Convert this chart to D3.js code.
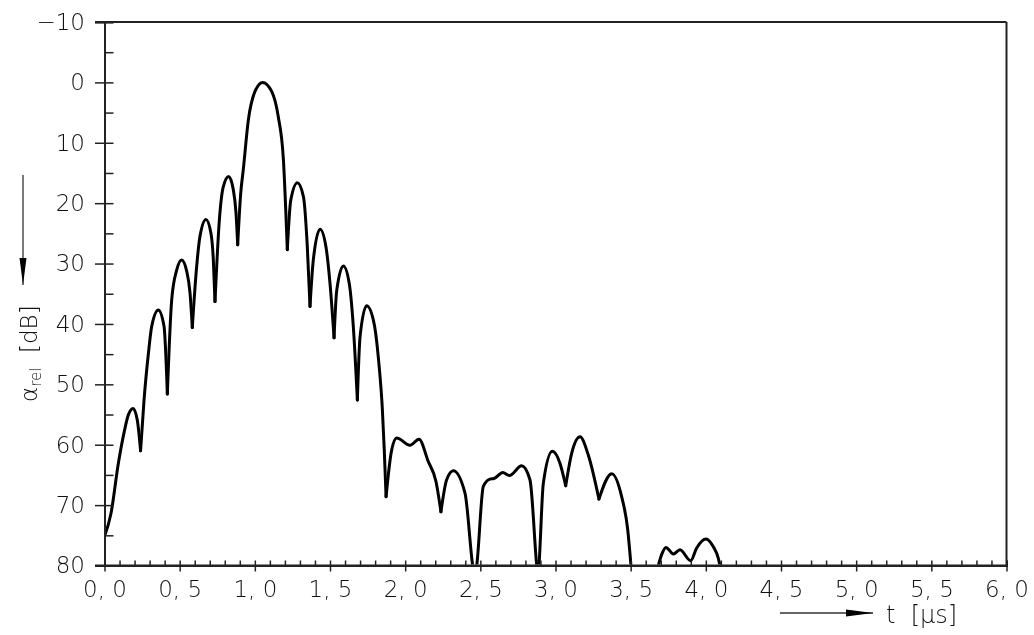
<!DOCTYPE html>
<html>
<head>
<meta charset="utf-8">
<script src="https://cdn.jsdelivr.net/npm/d3@7"></script>
<style>
  body { margin: 0; background: #fff; }
  svg { filter: grayscale(100%); }
  svg text { font-family: "DejaVu Sans", sans-serif; font-weight: 200; fill: #111; }
</style>
</head>
<body>
<div id="chart"></div>
<script>
// pulse response: time in µs, level in dB (null = below 80 dB)
var times = [
  0.000, 0.043, 0.092, 0.130, 0.158, 0.190, 0.218, 0.240,
  0.263, 0.292, 0.314, 0.358, 0.396, 0.418,
  0.447, 0.480, 0.513, 0.547, 0.569, 0.584,
  0.613, 0.635, 0.675, 0.708, 0.724, 0.735,
  0.764, 0.790, 0.826, 0.857, 0.875, 0.886,
  0.906, 0.923, 0.957, 1.001, 1.052, 1.112, 1.156, 1.190, 1.216,
  1.239, 1.283, 1.323, 1.349, 1.367,
  1.389, 1.434, 1.473, 1.500, 1.527,
  1.545, 1.589, 1.628, 1.655, 1.682,
  1.700, 1.744, 1.793, 1.825, 1.848, 1.861, 1.873,
  1.910, 1.944, 2.032, 2.092, 2.154, 2.205, 2.238,
  2.276, 2.320, 2.398, 2.449, 2.462,
  2.476, 2.520, 2.564, 2.591, 2.649, 2.693, 2.775, 2.830, 2.875, 2.883,
  2.890, 2.919, 2.979, 3.030, 3.068,
  3.108, 3.163, 3.218, 3.289,
  3.374, 3.440, 3.480, 3.502,
  3.600,
  3.684, 3.706, 3.735, 3.784, 3.828, 3.899, 3.939, 4.001, 4.050, 4.083, 4.094
];
var levels = [
  75.2, 71.4, 63.1, 58.0, 55.1, 54.0, 55.9, 61.0,
  52.6, 44.9, 40.4, 37.7, 40.4, 51.6,
  36.0, 31.1, 29.4, 31.3, 34.9, 40.6,
  30.5, 25.5, 22.7, 25.0, 29.4, 36.3,
  22.8, 17.3, 15.6, 17.8, 21.7, 26.9,
  18.4, 14.5, 6.2, 1.5, 0.0, 1.5, 5.7, 12.8, 27.7,
  19.5, 16.6, 18.9, 27.2, 37.1,
  29.4, 24.3, 27.2, 33.3, 42.3,
  34.4, 30.4, 33.3, 40.4, 52.6,
  42.1, 37.0, 39.9, 46.5, 54.0, 60.9, 68.6,
  60.9, 58.9, 60.1, 59.1, 62.8, 66.1, 71.1,
  65.8, 64.3, 68.0, 80.0, 82.0,
  80.0, 66.9, 65.7, 65.6, 64.6, 65.1, 63.5, 65.8, 80.0, 82.0,
  80.0, 66.4, 61.1, 63.1, 66.8,
  61.4, 58.7, 61.7, 69.0,
  64.8, 68.6, 74.0, 80.0,
  null,
  80.0, 78.2, 77.0, 78.1, 77.4, 79.2, 77.1, 75.6, 76.9, 78.8, 80.0
];
// times of the sharp nulls, where the curve has a cusp
var nullTimes = [0.240, 0.418, 0.584, 0.735, 0.886, 1.216, 1.367, 1.527, 1.682,
  1.873, 2.238, 2.462, 2.883, 3.068, 3.289];
var yMajor = [-10, 0, 10, 20, 30, 40, 50, 60, 70, 80];
var yMinor = [-5, 5, 15, 25, 35, 45, 55, 65, 75];
var xMajor = [0, 0.5, 1, 1.5, 2, 2.5, 3, 3.5, 4, 4.5, 5, 5.5, 6];
var xMinor = d3.range(0, 61).filter(function (i) { return i % 5 !== 0; }).map(function (i) { return i / 10; });

var width = 1034, height = 635;
var margin = { top: 22, right: 27.5, bottom: 69.5, left: 104.5 };
var w = width - margin.left - margin.right,
  h = height - margin.top - margin.bottom;

var svg = d3.select('#chart').append('svg')
  .attr('width', width)
  .attr('height', height);

var g = svg.append('g')
  .attr('transform', 'translate(' + margin.left + ',' + margin.top + ')');

var x = d3.scaleLinear().domain([0, 6]).range([0, w]);
var y = d3.scaleLinear().domain([-10, 80]).range([0, h]);

// clip so the deep nulls stop at the 80 dB line
svg.append('defs').append('clipPath').attr('id', 'plotclip')
  .append('rect').attr('x', 0).attr('y', -2).attr('width', w).attr('height', h + 1);

var pts = times.map(function (t, i) { return { t: t, v: levels[i] }; });

// split the trace at each null so every lobe is smooth and every null stays sharp
var segments = [];
var start = 0;
pts.forEach(function (d, i) {
  if (nullTimes.indexOf(d.t) >= 0) {
    segments.push(pts.slice(start, i + 1));
    start = i;
  }
});
segments.push(pts.slice(start));

var line = d3.line()
  .defined(function (d) { return d.v !== null; })
  .x(function (d) { return x(d.t); })
  .y(function (d) { return y(d.v); })
  .curve(d3.curveMonotoneX);

g.append('g')
  .attr('clip-path', 'url(#plotclip)')
  .selectAll('path')
  .data(segments)
  .enter()
  .append('path')
  .attr('fill', 'none')
  .attr('stroke', '#000')
  .attr('stroke-width', 3)
  .attr('stroke-linejoin', 'round')
  .attr('stroke-linecap', 'round')
  .attr('d', line);

// frame: top and right
g.append('line').attr('x1', -9.5).attr('x2', w).attr('y1', 0).attr('y2', 0)
  .attr('stroke', '#222').attr('stroke-width', 2);
g.append('line').attr('x1', w).attr('x2', w).attr('y1', 0).attr('y2', h)
  .attr('stroke', '#222').attr('stroke-width', 2);

// y axis
var yAxis = g.append('g').call(
  d3.axisLeft(y).tickValues(yMajor).tickSize(9.5).tickPadding(10)
    .tickFormat(function (d) { return d < 0 ? '\u2212' + Math.abs(d) : d; })
);
yAxis.selectAll('.tick line').attr('x2', -9.5).attr('x1', 9);
var yAxisMinor = g.append('g').call(
  d3.axisLeft(y).tickValues(yMinor).tickSize(-9).tickFormat('')
);

// x axis
var xAxis = g.append('g').attr('transform', 'translate(0,' + h + ')').call(
  d3.axisBottom(x).tickValues(xMajor).tickSize(6).tickPadding(9)
    .tickFormat(function (d) { return d.toFixed(1).replace('.', ', '); })
);
xAxis.selectAll('.tick line').attr('y1', -5).attr('y2', 6);
var xAxisMinor = g.append('g').attr('transform', 'translate(0,' + h + ')').call(
  d3.axisBottom(x).tickValues(xMinor).tickSize(-5).tickFormat('')
);

[yAxis, yAxisMinor, xAxis, xAxisMinor].forEach(function (a) {
  a.select('.domain').attr('stroke', '#222').attr('stroke-width', 2);
  a.selectAll('.tick line').attr('stroke', '#222').attr('stroke-width', 1.5);
  a.selectAll('.tick text').attr('font-size', 23).attr('font-family', null).attr('fill', '#111');
});
xAxis.select('.domain').attr('d', 'M-9.5,0H' + w);

// arrows next to the axis titles
function arrow(sel, x1, y1, x2, y2, headLen, headW) {
  sel.append('line').attr('x1', x1).attr('y1', y1).attr('x2', x2).attr('y2', y2)
    .attr('stroke', '#333').attr('stroke-width', 1.3);
  var dx = x2 - x1, dy = y2 - y1, len = Math.sqrt(dx * dx + dy * dy);
  var ux = dx / len, uy = dy / len;
  var bx = x2 - ux * headLen, by = y2 - uy * headLen;
  sel.append('path')
    .attr('d', 'M' + x2 + ',' + y2 +
      'L' + (bx - uy * headW / 2) + ',' + (by + ux * headW / 2) +
      'L' + (bx + uy * headW / 2) + ',' + (by - ux * headW / 2) + 'Z')
    .attr('fill', '#000');
}

// y label
arrow(svg, 23, 175, 23, 285, 27, 7);
var yl = svg.append('text')
  .attr('transform', 'translate(37,402) rotate(-90)')
  .attr('font-size', 23)
  .attr('xml:space', 'preserve');
yl.append('tspan').text('\u03b1');
yl.append('tspan').attr('font-size', 15).attr('dy', 4).text('rel');
yl.append('tspan').attr('dy', -4).text('  [dB]');

// x label
arrow(svg, 780, 613, 873, 613, 27, 7);
svg.append('text')
  .attr('x', 886).attr('y', 623)
  .attr('font-size', 24)
  .attr('xml:space', 'preserve')
  .text('t  [\u03bcs]');
</script>
</body>
</html>
